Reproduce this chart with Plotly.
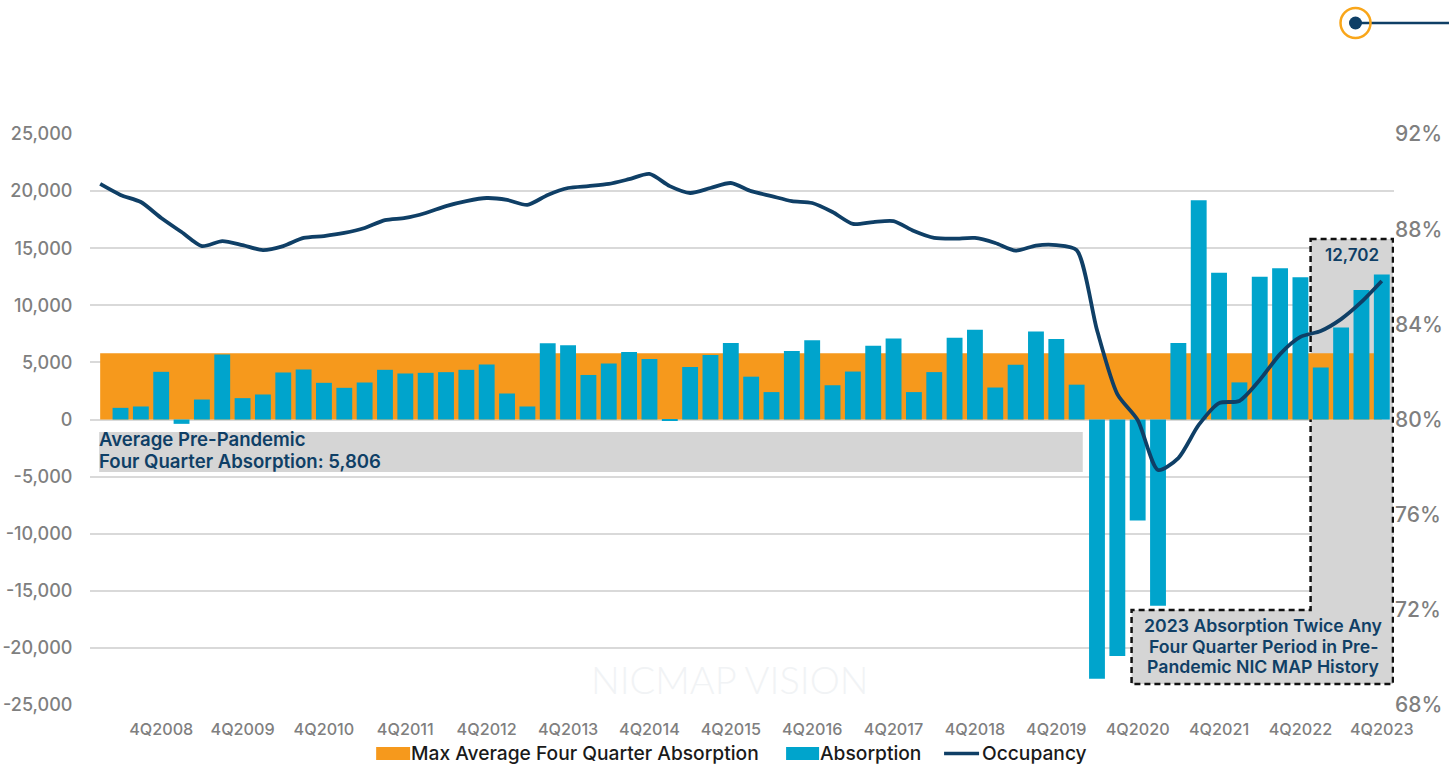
import plotly.graph_objects as go

quarters = [f"{q}Q{y}" for y in range(2008, 2024) for q in range(1, 5)]
tick_labels = [f"4Q{y}" for y in range(2008, 2024)]
tick_positions = [quarters.index(t) for t in tick_labels]

max_average = [5806] * 64

absorption = [None, 1020, 1140, 4175, -380, 1750, 5690, 1870, 2190, 4117, 4380, 3212, 2774, 3240, 4350, 4030,
              4088, 4146, 4350, 4818, 2277, 1140, 6687, 6512, 3900, 4900, 5900, 5300, -100, 4600, 5650, 6700,
              3750, 2400, 6000, 6950, 3000, 4200, 6450, 7100, 2400, 4150, 7150, 7850, 2800, 4800, 7700, 7050,
              3050, -22700, -20700, -8850, -16300, 6700, 19200, 12850, 3250, 12500, 13250, 12450, 4550, 8050, 11350, 12702]

occupancy = [89.90, 89.44, 89.14, 88.47, 87.88, 87.29, 87.50, 87.33, 87.12, 87.29, 87.63, 87.71, 87.84, 88.05, 88.38, 88.47,
             88.68, 88.97, 89.18, 89.31, 89.23, 89.02, 89.44, 89.73, 89.81, 89.90, 90.10, 90.32, 89.81, 89.52, 89.73, 89.94,
             89.60, 89.39, 89.18, 89.10, 88.72, 88.22, 88.30, 88.34, 87.92, 87.63, 87.60, 87.63, 87.42, 87.10, 87.31, 87.33,
             87.12, 83.76, 81.07, 79.98, 77.88, 78.38, 79.77, 80.69, 80.78, 81.66, 82.75, 83.47, 83.72, 84.22, 84.94, 85.82]

left_ticks = list(range(-25000, 25001, 5000))
right_ticks = list(range(68, 93, 4))

W, H = 1449, 764
L, R, T, B = 89.8, 1394, 134, 705
FONT = "Inter"
NAVY = "#0F3F66"
GRAY = "#7F7F7F"
ORANGE = "#F6991C"
BLUE = "#00A4CC"
BOX = "#D5D5D5"

def px(x):
    return (x - L) / (R - L)

def py(y):
    return (B - y) / (B - T)

fig = go.Figure()
idx = list(range(len(quarters)))
fig.add_trace(go.Scatter(x=idx, y=max_average, name="Max Average Four Quarter Absorption", mode="lines",
                         line=dict(width=0, color=ORANGE), fill="tozeroy", fillcolor=ORANGE, yaxis="y"))
fig.add_trace(go.Bar(x=idx, y=absorption, name="Absorption", marker=dict(color=BLUE, line=dict(width=0)), yaxis="y2"))
fig.add_trace(go.Scatter(x=idx, y=occupancy, name="Occupancy", mode="lines",
                         line=dict(color=NAVY, width=3.8, shape="spline", smoothing=0.7), yaxis="y3"))

dash = dict(color="#111111", width=2.5, dash="6px,4px")
shapes = [
    dict(type="rect", xref="x", yref="y", x0=-0.05, x1=48.3, y0=-1085, y1=-4600,
         fillcolor=BOX, line=dict(width=0), layer="between"),
    dict(type="path", xref="x", yref="y", layer="between", fillcolor=BOX, line=dash,
         path="M 59.5 15800 L 63.55 15800 L 63.55 -23170 L 50.7 -23170 L 50.7 -16680 L 59.5 -16680 Z"),
    dict(type="line", xref="paper", yref="paper", x0=px(1355), x1=px(1449), y0=py(23), y1=py(23),
         line=dict(color=NAVY, width=2.5), layer="above"),
    dict(type="circle", xref="paper", yref="paper", x0=px(1340.5), x1=px(1370.5), y0=py(8), y1=py(38),
         line=dict(color="#F9A61A", width=2.5), fillcolor="rgba(255,255,255,0)", layer="above"),
    dict(type="circle", xref="paper", yref="paper", x0=px(1349), x1=px(1362), y0=py(16.5), y1=py(29.5),
         line=dict(width=0), fillcolor=NAVY, layer="above"),
    # legend keys
    dict(type="rect", xref="paper", yref="paper", x0=px(376), x1=px(410), y0=py(747), y1=py(760),
         line=dict(width=0), fillcolor=ORANGE, layer="above"),
    dict(type="rect", xref="paper", yref="paper", x0=px(786), x1=px(819), y0=py(747), y1=py(760),
         line=dict(width=0), fillcolor=BLUE, layer="above"),
    dict(type="line", xref="paper", yref="paper", x0=px(944), x1=px(979), y0=py(753.5), y1=py(753.5),
         line=dict(color=NAVY, width=3.5), layer="above"),
]

note_font = dict(family=FONT, size=18.6, color=NAVY, weight=600)
box_font = dict(family=FONT, size=17.7, color=NAVY, weight=600)
value_font = dict(family=FONT, size=17, color=NAVY, weight=600)
legend_font = dict(family=FONT, size=19.2, color="#1A1A1A", weight=500)

def text(x, y, s, font, anchor="left"):
    return dict(x=px(x), y=py(y), xref="paper", yref="paper", xanchor=anchor, yanchor="middle",
                showarrow=False, text=s, font=font)

annotations = [
    text(97, 439, "Average Pre-Pandemic", note_font),
    text(97, 461, "Four Quarter Absorption: 5,806", note_font),
    text(1352, 255, "12,702", value_font, "center"),
    text(1263.5, 625, "2023 Absorption Twice Any", box_font, "center"),
    text(1263.5, 646, "Four Quarter Period in Pre-", box_font, "center"),
    text(1263.5, 666, "Pandemic NIC MAP History", box_font, "center"),
    text(729, 679, "NICMAP VISION", dict(family="Lato", size=38, color="#F1F3F5", weight=300), "center"),
    text(409, 753, "Max Average Four Quarter Absorption", legend_font),
    text(818, 753, "Absorption", legend_font),
    text(980, 753, "Occupancy", legend_font),
]

fig.update_layout(
    width=W, height=H, autosize=False,
    margin=dict(l=L, r=W - R, t=T, b=H - B, pad=0, autoexpand=False),
    paper_bgcolor="white", plot_bgcolor="white",
    bargap=0.22, showlegend=False,
    xaxis=dict(range=[-0.5, 63.6], tickmode="array", tickvals=tick_positions, ticktext=tick_labels,
               showgrid=False, zeroline=False, showline=False, ticks="outside", ticklen=10,
               tickcolor="rgba(0,0,0,0)", tickfont=dict(family=FONT, size=16.2, color=GRAY, weight=500)),
    yaxis=dict(range=[-25000, 25000], tickmode="array", tickvals=left_ticks,
               ticktext=[f"{v:,}" for v in left_ticks], showgrid=True, gridcolor="#D9D9D9", gridwidth=1.5,
               zeroline=True, zerolinecolor="#D9D9D9", zerolinewidth=1.5, showline=False,
               ticks="outside", ticklen=13, tickcolor="rgba(0,0,0,0)",
               tickfont=dict(family=FONT, size=18, color=GRAY, weight=500)),
    yaxis2=dict(range=[-25000, 25000], overlaying="y", side="left", visible=False, showgrid=False, zeroline=False),
    yaxis3=dict(range=[68, 92], overlaying="y", side="right", tickmode="array", tickvals=right_ticks,
                ticktext=[f"{v}%" for v in right_ticks], showgrid=False, zeroline=False, showline=False,
                tickfont=dict(family=FONT, size=21, color=GRAY, weight=500)),
    shapes=shapes, annotations=annotations,
)

fig.write_html("out.html", config=dict(displayModeBar=False), post_script="document.body.style.margin='0';")
